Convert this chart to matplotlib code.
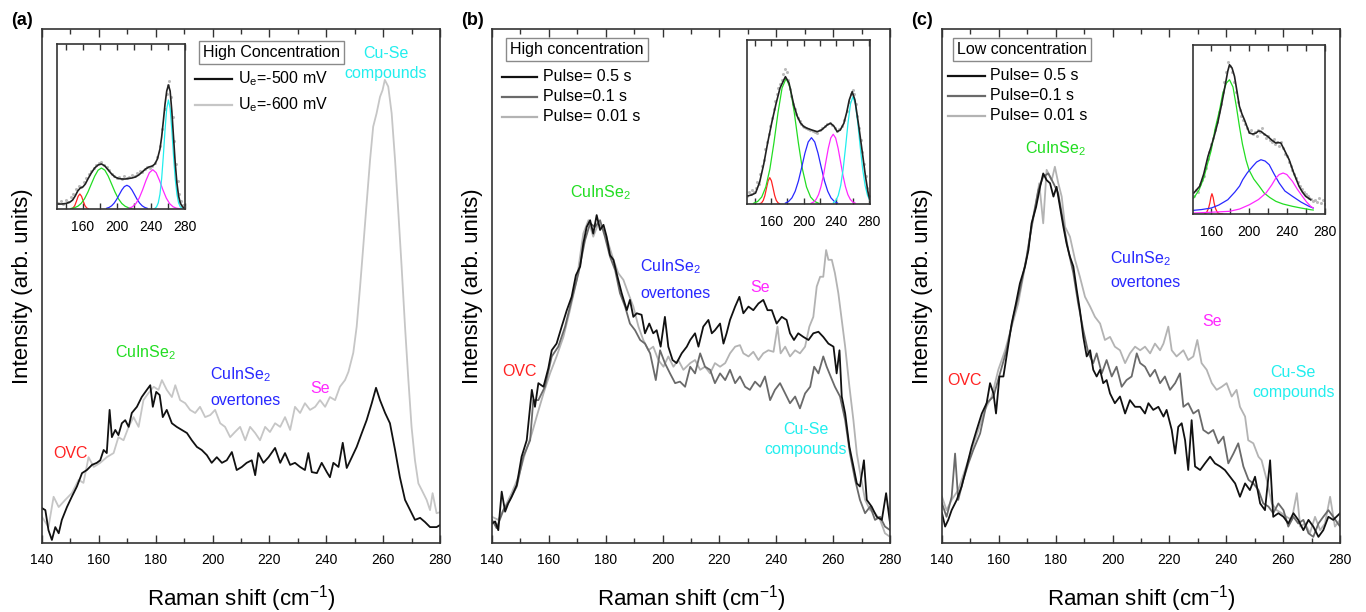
import matplotlib
matplotlib.use("Agg")  # headless
import matplotlib.pyplot as plt
from matplotlib.ticker import MultipleLocator, FixedLocator

plt.rcParams['font.family'] = ['Liberation Sans', 'DejaVu Sans']
plt.rcParams['mathtext.fontset'] = 'custom'
plt.rcParams['mathtext.rm'] = 'Liberation Sans'
plt.rcParams['mathtext.it'] = 'Liberation Sans:italic'
plt.rcParams['mathtext.default'] = 'regular'

# ---- main spectra, (Raman shift cm-1, intensity arb. 0..100) ----
A_500 = [(140, 6.8), (141.2, 6.4), (142.3, 2.5), (143.5, 0.6), (144.7, 3.1), (145.9, 1.9), (147.0, 4.5),
         (148.8, 7), (150.5, 9), (152.3, 11), (154.1, 13.6), (155.8, 14.2), (157.6, 15.2), (159.3, 15.6),
         (160.5, 16.1), (161.7, 18.1), (162.8, 17.5), (163.8, 25.9), (164.6, 20.6), (165.8, 22), (166.9, 21),
         (168.1, 23.3), (169.3, 23.9), (170.5, 22.6), (171.6, 25.3), (173.4, 26.5), (175.1, 28.4), (176.9, 29.8),
         (178.1, 30.7), (179.0, 26.5), (180.2, 29.4), (181.4, 28.8), (182.5, 24.5), (183.9, 25.9), (185.7, 23.3),
         (187.4, 22.6), (189.2, 22), (191.0, 21.4), (192.7, 20), (194.5, 18.7), (196.2, 18.1), (198.0, 17.1),
         (199.7, 15.6), (201.5, 16.7), (203.3, 15.6), (205.0, 16.1), (206.8, 17.7), (208.5, 14.2), (210.3, 14.8),
         (212.0, 15.6), (213.8, 16.1), (215.0, 13.2), (216.1, 17.5), (217.9, 15.6), (219.7, 16.7), (222.0, 18.5),
         (223.8, 15.6), (225.5, 17.5), (227.3, 15.2), (229.0, 15.6), (230.8, 14.8), (232.5, 14.2), (233.7, 17.5),
         (234.9, 13.8), (236.7, 13.6), (238.4, 15.6), (240.2, 13.8), (241.3, 12.8), (242.5, 15.6), (244.3, 14.8),
         (245.8, 19.5), (247.2, 14.6), (249.0, 16.7), (250.7, 18.7), (252.5, 21.4), (254.2, 23.9), (256.0, 27.2),
         (257.5, 30.2), (258.9, 27.8), (260.7, 25.3), (262.4, 23.3), (264.2, 18.1), (265.9, 12.8), (267.7, 8.4),
         (269.5, 6.4), (271.2, 4.5), (273.0, 4.9), (274.7, 4.1), (276.5, 3.1), (278.8, 3.1), (280, 3.5)]

A_600 = [(140, 5.1), (142.3, 3.1), (144.1, 9.0), (145.9, 7), (148.2, 8.4), (150.5, 9.7), (152.9, 12.3),
         (154.6, 11.7), (156.4, 16.7), (158.2, 14.8), (160.5, 15.6), (162.8, 16.7), (165.2, 17.5), (166.9, 20.6),
         (168.7, 20.0), (170.5, 22.6), (172.2, 24.5), (174.0, 22.6), (175.7, 27.8), (177.5, 29.2), (179.3, 30.4),
         (181.0, 29.8), (182.2, 31.7), (183.9, 29.8), (185.7, 28.4), (186.9, 30.7), (188.6, 27.8), (190.4, 27.2),
         (192.1, 25.9), (193.9, 25.3), (195.6, 26.5), (197.4, 24.5), (199.2, 24.9), (200.9, 25.9), (202.7, 23.3),
         (204.4, 22.6), (206.2, 20.6), (207.9, 21.6), (209.7, 22.6), (211.5, 20.0), (213.2, 22.6), (215.0, 21.4),
         (216.7, 20.0), (218.5, 22.6), (220.2, 21.6), (222.0, 23.3), (223.8, 22.6), (225.5, 24.5), (227.3, 22.0),
         (229.0, 26.5), (230.8, 25.3), (232.5, 27.2), (234.3, 25.9), (236.1, 26.5), (237.8, 27.8), (239.6, 26.5),
         (241.3, 28.4), (243.1, 27.8), (244.8, 30.4), (246.6, 31.7), (247.8, 33.3), (249.5, 37.0), (250.7, 42.1),
         (251.9, 49.9), (253.0, 57.6), (254.2, 66.1), (255.4, 74.5), (256.5, 81.0), (257.7, 83.6), (258.9, 86.8),
         (259.8, 88.1), (260.6, 90.1), (261.8, 88.8), (263.0, 83.6), (264.2, 74.5), (265.3, 64.8), (266.5, 53.8),
         (267.7, 42.1), (268.8, 32.4), (270.0, 22.6), (271.2, 16.1), (272.4, 11.6), (273.6, 10.3), (275.3, 8.4),
         (276.5, 6.4), (277.4, 9.7), (278.8, 5.8), (280, 6.0)]

B_05 = [(140, 3.8), (141.1, 4.2), (142.2, 2.5), (143.4, 10), (144.6, 6.1), (145.7, 7.7), (146.9, 9.0), (148.7, 11.3),
        (150.4, 16.8), (152.2, 20), (154, 29.8), (155.1, 26.5), (156.3, 31.1), (158.1, 30.4), (159.8, 34),
        (161, 37.5), (162.7, 38.8), (164.5, 42.1), (166.3, 45.3), (168, 47.9), (169.5, 52.1), (171, 53.8),
        (172.1, 58.3), (173.3, 61.5), (174.5, 62.8), (175.6, 60.2), (176.8, 63.8), (178, 60.9), (179.2, 61.9),
        (180.3, 59.6), (181.5, 56), (182.7, 55.1), (183.8, 52.5), (185.6, 48.6), (187.4, 45.3), (188.5, 47.3),
        (189.7, 44), (190.9, 44.7), (192.6, 44.4), (193.8, 40.8), (195.3, 42.7), (196.7, 40.8), (197.9, 41.4),
        (199.3, 38.2), (200.8, 44), (202, 38.2), (203.5, 35.6), (204.9, 35), (206.7, 36.9), (208.5, 38.2),
        (209.7, 39.5), (211.4, 40.8), (212.6, 38.2), (214.3, 42.1), (216.1, 43.4), (217.3, 40.8), (218.4, 41.4),
        (220.2, 42.7), (221.4, 38.8), (222.5, 40.8), (223.7, 43.4), (225.5, 46), (227, 47.9), (228.4, 44.7),
        (230.2, 46), (231.9, 45.3), (233.7, 46.6), (235.4, 47.3), (236.9, 45.3), (238.4, 45.3), (240.1, 42.7),
        (241.9, 44), (243.6, 43.4), (244.8, 40.8), (246.2, 39.5), (247.7, 40.8), (249.5, 40.1), (251.3, 39.5),
        (253, 40.8), (254.8, 41.1), (256.5, 40.1), (258.3, 38.8), (260.1, 38.2), (261.2, 33), (262.2, 37.5),
        (263, 28.5), (264.2, 25.2), (265.7, 18.7), (267.1, 14.9), (268.3, 11.6), (269.4, 11), (270.8, 16.1),
        (271.8, 8.4), (273.5, 7.1), (275.3, 5.1), (277.1, 4.5), (278.6, 9.7), (280, 3.8)]

B_01 = [(140, 4.5), (141.6, 2.9), (144, 6.4), (146.3, 8.4), (148.7, 11), (151, 16.8), (153.4, 20), (154.5, 27.8),
        (156.3, 27.8), (158.6, 30.4), (161, 36.3), (163.3, 38.2), (165.7, 42.1), (168, 47.3), (170.4, 52.5),
        (172.7, 58.9), (174.5, 62.2), (176.2, 61.5), (178, 62.8), (179.7, 59.6), (181.5, 55.7), (183.3, 53.1),
        (185, 48.6), (186.8, 46), (188.5, 42.7), (190.3, 41.4), (192.1, 39.5), (193.8, 38.8), (195.6, 36.9),
        (197.6, 31.7), (199.1, 37.5), (200.8, 35), (202.6, 33), (204.4, 31.1), (206.1, 31.4), (207.9, 30.4),
        (209.7, 34.3), (211.4, 33), (213.2, 36.9), (214.9, 34.3), (216.7, 33.7), (218.4, 31.1), (220.2, 33),
        (222, 31.7), (223.7, 33.7), (225.5, 31.1), (227.2, 32.4), (229, 30.4), (230.7, 29.8), (232.5, 31.4),
        (234.3, 30.4), (236, 32.4), (237.8, 27.8), (239.5, 29.8), (241.3, 31.1), (243.1, 29.1), (244.8, 27.2),
        (246.6, 28.5), (248.3, 26.2), (250.1, 29.1), (251.9, 30.4), (253.3, 34.3), (254.8, 33), (256.5, 36.3),
        (257.7, 34.3), (259.1, 32.4), (260.6, 30.4), (262.4, 28.5), (264.2, 23.9), (265.9, 17.4), (267.7, 12.3),
        (269.4, 8.4), (271.2, 5.8), (273, 7.1), (274.7, 4.5), (276.5, 5.1), (278.2, 3.2), (280, 2.5)]

B_001 = [(140, 5.1), (142.2, 4.5), (144.6, 7.1), (146.9, 9.7), (149.3, 12.9), (151.6, 17.4), (154, 21.3),
         (155.7, 24.6), (158.1, 29.1), (160.4, 33), (162.7, 36.3), (165.1, 40.1), (167.4, 45.3), (169.8, 51.2),
         (172.1, 60.2), (173.9, 62.8), (175.6, 59.6), (177.4, 62.2), (179.2, 60.9), (180.9, 58.3), (182.7, 55.1),
         (184.4, 52.5), (186.2, 51.2), (187.9, 48.6), (189.7, 46), (191.5, 42.1), (193.2, 39.5), (195, 37.5),
         (196.7, 38.2), (198.5, 35.6), (200.3, 34.3), (202, 36.3), (203.8, 34.3), (205.5, 35.6), (207.3, 33.7),
         (209.7, 35), (211.4, 35.6), (213.2, 33.7), (214.9, 34.3), (216.7, 33), (218.4, 35), (220.2, 34.3),
         (222, 35), (223.7, 36.9), (225.5, 38.2), (227.2, 38.5), (228.4, 36.9), (230.2, 36.3), (231.9, 37.2),
         (233.7, 35.6), (235.4, 36.9), (237.2, 37.5), (239, 37.2), (240.4, 42.1), (241.5, 36.9), (243.1, 38.2),
         (244.8, 36.3), (246.6, 37.5), (248.3, 36.9), (250.1, 38.2), (251.6, 42.1), (253, 44), (254.2, 49.9),
         (255.4, 51.8), (256.5, 51.8), (257.5, 57), (258.3, 55.1), (259.5, 55.1), (260.6, 52.5), (261.8, 48.6),
         (263, 43.4), (264.2, 38.2), (265.7, 30.4), (267.1, 23.9), (268.3, 17.4), (269.7, 12.9), (271.2, 8.4),
         (273, 6.4), (274.7, 5.8), (276.5, 4.5), (278.2, 1.9), (280, 1.2)]

C_05 = [(140, 5.8), (141.1, 3.2), (142.2, 4.5), (143.4, 6.4), (145.2, 8.4), (146.9, 11), (148.7, 14.9),
        (150.4, 18.7), (152.2, 22), (154, 25.2), (155.7, 27.2), (156.9, 31.1), (158.1, 29.1), (159, 25.2),
        (160.2, 32.4), (161.6, 32.4), (162.7, 36.3), (164.5, 42.7), (166, 46.6), (167.4, 50.5), (169.2, 53.8),
        (170.4, 57), (171.5, 62.2), (173.1, 65.4), (174.5, 69.3), (175.6, 71.9), (176.8, 70.6), (178, 70),
        (179.2, 67.4), (180.3, 69.3), (181.5, 65.4), (182.7, 61.5), (183.8, 58.3), (185, 55.7), (186.2, 53.8),
        (187.4, 49.2), (188.5, 45.3), (189.7, 40.1), (190.9, 36.3), (192.1, 37.5), (193.2, 33.7), (194.4, 32.4),
        (195.6, 33.7), (196.7, 31.1), (197.9, 31.7), (199.1, 29.1), (200.8, 27.2), (202.6, 28.5), (204.4, 25.2),
        (206.1, 27.8), (207.9, 26.5), (209.7, 26.5), (211.4, 25.2), (212.6, 27.2), (214.3, 25.9), (216.1, 26.5),
        (217.9, 24.6), (219, 25.9), (220.8, 22), (222, 17.4), (223.1, 22.6), (224.3, 23.3), (225.5, 20),
        (226.6, 14.2), (227.8, 23.9), (229, 14.9), (230.8, 14.2), (232.5, 15.5), (234.3, 16.8), (236, 15.5),
        (237.8, 14.9), (239.5, 14.2), (241.3, 12.9), (243.1, 11.6), (244.8, 9), (246.6, 11.6), (248.3, 10.3),
        (250.1, 12.9), (251.9, 7.7), (253.6, 6.4), (255.4, 16.1), (256.5, 5.1), (258.3, 5.8), (260.1, 5.1),
        (261.8, 3.8), (263.6, 5.8), (265.3, 4.5), (267.1, 2.5), (268.9, 4.5), (270.6, 3.2), (272.4, 1.2),
        (274.1, 2.5), (275.9, 5.1), (277.6, 4.5), (280, 5.8)]

C_01 = [(140, 7.7), (141.6, 5.1), (143.4, 9), (144.6, 17.4), (145.7, 8.4), (147.5, 12.3), (149.3, 15.5),
        (151, 18.1), (153.4, 21.3), (155.7, 27.2), (158.1, 28.5), (160.4, 33), (162.7, 37.5), (165.1, 44),
        (167.4, 49.2), (169.8, 55.7), (172.1, 63.5), (173.9, 68.7), (175.6, 71.3), (177.4, 71.9), (179.2, 70),
        (180.9, 68), (182.7, 62.2), (184.4, 57), (186.2, 52.5), (187.9, 46.6), (189.7, 41.4), (191.5, 36.9),
        (193.2, 35), (194.4, 36.9), (196.2, 33), (197.9, 35.6), (199.7, 32.4), (201.4, 34.3), (203.2, 30.4),
        (204.9, 31.7), (206.7, 32.4), (208.5, 36.9), (209.7, 35), (211.4, 34.3), (213.2, 32.4), (214.9, 33.7),
        (216.7, 31.1), (218.4, 32.4), (220.2, 29.8), (222, 31.1), (223.7, 33), (224.9, 26.5), (226.6, 27.2),
        (228.4, 25.2), (230.2, 25.9), (231.9, 22), (233.7, 21.3), (235.4, 22), (237.2, 19.4), (239, 20.7),
        (240.7, 15.5), (242.5, 17.4), (244.2, 19.4), (246, 14.9), (247.8, 12.3), (249.5, 11.6), (251.3, 10.3),
        (253, 7.7), (254.8, 7.1), (256.5, 5.8), (258.3, 7.7), (260.1, 6.4), (261.8, 3.2), (263.6, 5.1),
        (265.3, 3.8), (267.1, 4.5), (268.9, 1.9), (270.6, 1.2), (272.4, 3.8), (274.1, 5.1), (275.9, 6.4),
        (277.6, 5.1), (280, 3.2)]

C_001 = [(140, 9), (141.6, 6.4), (143.4, 8.4), (145.7, 10.3), (148.1, 14.2), (150.4, 18.1), (152.8, 22),
         (155.1, 25.9), (157.5, 28.5), (159.8, 33.7), (162.2, 37.5), (164.5, 42.1), (166.8, 46.6), (169.2, 53.8),
         (170.9, 59.6), (172.7, 64.8), (174.2, 70), (175.6, 62.2), (176.8, 72.6), (178.6, 70.6), (179.7, 73.2),
         (180.9, 70), (182.1, 67.4), (183.3, 61.5), (185, 59.6), (186.8, 55.1), (188.5, 51.8), (190.3, 47.9),
         (192.1, 46), (193.8, 44), (195.6, 42.7), (197.3, 39.5), (199.1, 40.1), (200.8, 38.2), (202.6, 37.5),
         (204.4, 35), (206.1, 36.9), (207.9, 38.2), (209.7, 37.5), (211.4, 38.2), (213.2, 36.9), (214.9, 38.8),
         (216.7, 37.5), (217.9, 38.8), (219.6, 42.1), (220.8, 37.5), (222.5, 36.3), (224.9, 37.5), (226.6, 35.6),
         (228.4, 36.3), (229.8, 39.5), (231.3, 35), (233.1, 33.7), (234.9, 31.1), (236.6, 29.8), (238.4, 30.4),
         (240.1, 31.1), (241.9, 28.5), (243.6, 29.8), (244.8, 26.5), (246.6, 24.6), (247.7, 20), (249.5, 19.4),
         (251.3, 16.8), (252.4, 16.1), (254.2, 12.3), (256, 7.7), (257.7, 6.4), (259.5, 5.8), (261.2, 5.1),
         (263, 4.5), (264.8, 9.7), (266, 3.2), (267.7, 3.8), (269.4, 1.9), (271.2, 5.1), (273, 2.5), (274.7, 3.8),
         (276.5, 9), (278.2, 3.2), (280, 4.5)]

# ---- inset fits (Raman shift, height) ----
IA_RED = [(146.5, 0.2), (148.5, 1.1), (150.5, 3.4), (152.5, 7.8), (154.5, 12.7), (156.5, 15), (158.5, 12.7),
          (160.5, 7.8), (162.5, 3.4), (164.5, 1.1), (166.5, 0.2)]
IA_GREEN = [(146, 0.5), (150, 1.2), (154, 2.7), (158, 5.5), (162, 10.2), (166, 16.9), (170, 24.9), (174, 32.8),
            (178, 38.8), (182, 41), (186, 38.8), (190, 32.8), (194, 24.9), (198, 16.9), (202, 10.2), (206, 5.5),
            (210, 2.7), (214, 1.2), (218, 0.5)]
IA_BLUE = [(188, 0.7), (191, 1.6), (194, 3.2), (197, 5.9), (200, 9.7), (203, 14.4), (206, 19), (209, 22.4),
           (212, 23.7), (215, 22.4), (218, 19), (221, 14.4), (224, 9.7), (227, 5.9), (230, 3.2), (233, 1.6), (236, 0.7)]
IA_MAGENTA = [(214.5, 0.8), (218.5, 2.2), (222.5, 5.3), (226.5, 10.9), (230.5, 19.1), (234.5, 28.5), (238.5, 36.3),
              (242.5, 39.3), (246.5, 36.3), (250.5, 28.5), (254.5, 19.1), (258.5, 10.9), (262.5, 5.3), (266.5, 2.2),
              (270.5, 0.8), (274.5, 0.2)]
IA_CYAN = [(245, 0.6), (247, 2.2), (249, 6.1), (251, 14.8), (253, 30.3), (255, 53.1), (257, 79.1), (259, 100.6),
           (261, 109), (263, 100.6), (265, 79.1), (267, 53.1), (269, 30.3), (271, 14.8), (273, 6.1), (275, 2.2), (277, 0.6)]
IA_FIT = [(131, 5), (135, 5), (140, 5.5), (145, 7), (148, 9), (151, 13), (154, 18), (157, 21), (160, 22), (163, 25),
          (166, 30), (170, 36), (174, 41), (178, 44), (182, 45), (186, 43), (190, 39), (194, 35), (198, 32),
          (202, 30.5), (206, 30), (210, 30), (214, 30.5), (218, 31), (222, 32), (226, 34), (230, 37), (234, 40),
          (238, 42), (242, 43), (245, 45), (248, 50), (251, 60), (253, 72), (255, 88), (257, 105), (259, 118),
          (261, 124), (263, 118), (265, 98), (267, 72), (269, 46), (271, 26), (273, 13), (275, 6), (277, 3), (279, 1)]
IA_DATA = [(131, 6), (134, 8), (137, 5), (140, 9), (143, 7), (146, 12), (149, 15), (152, 20), (155, 23), (158, 22),
           (161, 27), (164, 31), (167, 35), (170, 38), (173, 41), (176, 44), (179, 46), (182, 47), (185, 44),
           (188, 42), (191, 39), (194, 35), (197, 33), (200, 31), (203, 32), (206, 30), (209, 33), (212, 31),
           (215, 32), (218, 34), (221, 33), (224, 36), (227, 38), (230, 37), (233, 40), (236, 42), (239, 41),
           (242, 43), (245, 46), (248, 52), (251, 63), (254, 80), (257, 100), (259, 115), (261, 124), (262, 128),
           (264, 112), (266, 92), (268, 68), (270, 45), (272, 28), (274, 15), (276, 8), (278, 4), (280, 2)]

IB_RED = [(146.4, 0.3), (148.4, 1.2), (150.4, 3.6), (152.4, 8.5), (154.4, 16), (156.4, 23.2), (158.4, 26.3),
          (160.4, 23.2), (162.4, 16), (164.4, 8.5), (166.4, 3.6), (168.4, 1.2), (170.4, 0.3)]
IB_GREEN = [(138.5, 0.7), (143.5, 2.5), (148.5, 7), (153.5, 17), (158.5, 34.9), (163.5, 61.2), (168.5, 91.3),
            (173.5, 116), (178.5, 125.7), (183.5, 116), (188.5, 91.3), (193.5, 61.2), (198.5, 34.9), (203.5, 17),
            (208.5, 7), (213.5, 2.5), (218.5, 0.7)]
IB_BLUE = [(177.6, 0.9), (181.6, 2.6), (185.6, 6.1), (189.6, 12.7), (193.6, 23), (197.6, 36.6), (201.6, 50.9),
           (205.6, 62), (209.6, 66.3), (213.6, 62), (217.6, 50.9), (221.6, 36.6), (225.6, 23), (229.6, 12.7),
           (233.6, 6.1), (237.6, 2.6), (241.6, 0.9)]
IB_MAGENTA = [(209.3, 0.8), (212.3, 2), (215.3, 4.6), (218.3, 9.4), (221.3, 17.4), (224.3, 28.6), (227.3, 42.3),
              (230.3, 55.8), (233.3, 66), (236.3, 69.7), (239.3, 66), (242.3, 55.8), (245.3, 42.3), (248.3, 28.6),
              (251.3, 17.4), (254.3, 9.4), (257.3, 4.6), (260.3, 2), (263.3, 0.8)]
IB_CYAN = [(236.5, 1.2), (239.5, 3.4), (242.5, 8.5), (245.5, 18.5), (248.5, 34.8), (251.5, 57), (254.5, 81),
           (257.5, 100), (260.5, 107.3), (263.5, 100), (266.5, 81), (269.5, 57), (272.5, 34.8), (275.5, 18.5),
           (278.5, 8.5), (281.5, 3.4)]
IB_FIT = [(131, 8), (136, 9), (141, 11), (146, 22), (151, 40), (156, 62), (161, 82), (166, 100), (171, 116),
          (177.6, 127.3), (182, 121), (187.9, 99), (192, 88), (196.1, 81), (200, 77.5), (204.3, 75.7), (210, 74),
          (216.6, 72.3), (222, 74), (228.9, 79), (233, 80.7), (237, 78), (241.2, 72.3), (245, 74), (249.4, 80.7),
          (253, 92), (256, 104), (259.6, 112.3), (263, 104), (267.8, 77.3), (272, 52), (276, 27.3), (279, 12), (281, 5)]
IB_DATA = [(131, 8), (133, 12), (135, 10), (137, 14), (139, 12), (141, 16), (143, 22), (145, 20), (147, 30), (149, 38),
           (151, 44), (153, 55), (155, 62), (157, 70), (159, 78), (161, 86), (163, 95), (165, 103), (167, 110),
           (169, 116), (171, 120), (173, 124), (175, 130), (177, 135), (179, 132), (181, 124), (183, 115), (185, 108),
           (187, 100), (189, 95), (191, 90), (193, 86), (195, 83), (197, 80), (199, 78), (201, 77), (203, 76),
           (205, 75), (208, 74), (211, 73), (214, 72), (217, 71), (220, 74), (223, 76), (226, 78), (229, 80),
           (232, 81), (235, 79), (238, 76), (241, 73), (244, 75), (247, 78), (250, 84), (253, 93), (256, 102),
           (258, 110), (260, 114), (262, 110), (264, 100), (266, 88), (268, 76), (270, 64), (272, 52), (274, 40),
           (276, 28), (278, 16), (280, 8)]

IC_RED = [(153, 0.2), (155, 1.5), (157, 5.5), (158.5, 11), (159.5, 16.5), (160.7, 20.3), (162, 16.5), (163, 11),
          (164.5, 5.5), (166.5, 1.5), (169, 0.3), (172, 0)]
IC_GREEN = [(141.4, 16), (147, 24), (152, 36), (156, 50), (160, 64), (164, 85), (168.8, 104), (172, 120), (176, 131),
            (179.3, 134.3), (183, 127), (186.5, 108), (189.8, 87.7), (193, 70), (196.8, 54), (200, 44), (205, 35),
            (210.9, 27.7), (216, 21), (222, 16.5), (228.4, 12.7), (236, 10), (246, 7.7), (255, 6), (265.3, 4.3), (268, 4)]
IC_BLUE = [(141.4, 3.7), (150, 4.5), (160, 6), (168, 9), (177.5, 14.3), (185, 22), (190, 28), (193.3, 34.3), (198, 41),
           (203.9, 47.7), (208, 52), (212.6, 54.3), (217, 53), (221.4, 49.3), (226, 41), (231.9, 31), (238, 23),
           (246, 17.7), (255, 12), (263.5, 7.7), (268, 6)]
IC_MAGENTA = [(141.4, 1), (160, 1.8), (179.3, 2.7), (190, 5), (200.4, 9.3), (210, 14.5), (218, 21), (224, 29),
              (228.4, 36), (232, 39.5), (236.1, 41), (240, 39.5), (246, 32.7), (251, 25), (256.5, 17.7), (261, 12),
              (265.3, 7.7), (268, 6)]
IC_FIT = [(141.4, 21), (147.7, 27.7), (152, 40), (156.5, 57.7), (160, 68), (163.5, 79.3), (167, 92), (170.5, 107.7),
          (173, 120), (175.8, 134.3), (177.5, 143), (179.3, 149.3), (182, 146), (184.6, 137.7), (187, 124),
          (189.8, 107.7), (192.5, 100), (195.1, 94.3), (198, 87), (200.4, 81), (204, 80), (207.4, 81), (210, 83),
          (212.6, 82.7), (216, 80), (219.6, 77.7), (224, 74), (228.4, 71), (231, 71.5), (233.7, 71), (238, 63),
          (242.5, 54.3), (247, 42), (253, 27.7), (256.5, 22), (260, 17.7), (265.3, 14.3)]
IC_DATA = [(142, 18), (144, 24), (146, 22), (148, 30), (150, 34), (152, 38), (154, 46), (156, 55), (158, 62), (160, 70),
           (162, 76), (164, 84), (166, 92), (168, 102), (170, 110), (172, 122), (174, 132), (176, 142), (178, 152),
           (180, 148), (182, 142), (184, 132), (186, 122), (188, 112), (190, 104), (192, 98), (194, 94), (196, 90),
           (198, 86), (200, 82), (202, 84), (204, 80), (206, 82), (208, 78), (210, 84), (212, 82), (214, 86),
           (216, 80), (218, 76), (220, 78), (222, 74), (224, 72), (226, 75), (228, 70), (230, 72), (232, 68),
           (234, 72), (236, 66), (238, 60), (240, 58), (242, 52), (244, 48), (246, 44), (248, 40), (250, 36),
           (252, 32), (254, 28), (256, 25), (258, 22), (260, 20), (262, 18), (264, 16), (266, 15), (268, 13),
           (270, 14), (272, 12), (274, 16), (276, 11), (278, 14), (280, 10)]

BLACK = "#111111"
MID = "#6a6a6a"
LIGHT = "#b3b3b3"
LIGHT_A = "#c6c6c6"
RED = "#ff2222"
GREEN = "#22dd22"
BLUE = "#2828ff"
MAGENTA = "#ff28ff"
CYAN = "#22eeee"
SPINE = "#333333"


def xy(pairs):
    return [p[0] for p in pairs], [p[1] for p in pairs]


def style_main(ax):
    ax.set_xlim(140, 280)
    ax.set_ylim(0, 100)
    ax.set_xticks(range(140, 281, 20))
    ax.xaxis.set_minor_locator(MultipleLocator(10))
    ax.tick_params(axis='x', which='both', direction='in', top=True, labelsize=10, pad=7, color=SPINE)
    ax.tick_params(axis='x', which='major', length=6, width=1)
    ax.tick_params(axis='x', which='minor', length=3.5, width=1)
    ax.set_yticks([])
    ax.set_xlabel("Raman shift (cm$^{-1}$)", fontsize=16)
    ax.set_ylabel("Intensity (arb. units)", fontsize=16)
    ax.xaxis.set_label_coords(0.5, -0.078)
    ax.yaxis.set_label_coords(-0.022, 0.5)
    for s in ax.spines.values():
        s.set_linewidth(1.2)
        s.set_color(SPINE)


def style_inset(ax, xlim, ylim):
    ax.set_xlim(*xlim)
    ax.set_ylim(*ylim)
    ax.xaxis.set_major_locator(FixedLocator([160, 200, 240, 280]))
    ax.xaxis.set_minor_locator(FixedLocator([140, 180, 220, 260]))
    ax.tick_params(axis='x', which='both', direction='in', top=True, length=4, width=1,
                   labelsize=10, pad=8, color=SPINE)
    ax.set_yticks([])
    for s in ax.spines.values():
        s.set_linewidth(1.2)
        s.set_color(SPINE)


def draw_inset(ax, comps, fit, data):
    x, y = xy(data)
    ax.plot(x, y, 'o', ms=2.2, color='#aaaaaa', mec='none', alpha=0.8)
    for pairs, col in comps:
        x, y = xy(pairs)
        ax.plot(x, y, color=col, lw=0.9)
    x, y = xy(fit)
    ax.plot(x, y, color='#222222', lw=1.2)


def draw_legend(ax, title, tx, ty, entries, x0, x1, xt, ys):
    ax.text(tx, ty, title, transform=ax.transAxes, ha='center', va='center', fontsize=11.5,
            bbox=dict(boxstyle='square,pad=0.25', fc='white', ec='#8a8a8a', lw=1))
    for (label, col), yy in zip(entries, ys):
        ax.plot([x0, x1], [yy, yy], transform=ax.transAxes, color=col, lw=1.6, clip_on=False)
        ax.text(xt, yy, label, transform=ax.transAxes, ha='left', va='center', fontsize=11.5)


def annotate(ax, ovc, cis, ovt, se, cuse):
    ax.text(ovc[0], ovc[1], "OVC", color=RED, fontsize=11.5, va='center')
    ax.text(cis[0], cis[1], "CuInSe$_2$", color=GREEN, fontsize=11.5, va='center')
    ax.text(ovt[0], ovt[1], "CuInSe$_2$", color=BLUE, fontsize=11.5, va='center')
    ax.text(ovt[0], ovt[2], "overtones", color=BLUE, fontsize=11.5, va='center')
    ax.text(se[0], se[1], "Se", color=MAGENTA, fontsize=11.5, va='center')
    ax.text(cuse[0], cuse[1], "Cu-Se", color=CYAN, fontsize=11.5, va='center', ha='center')
    ax.text(cuse[0], cuse[2], "compounds", color=CYAN, fontsize=11.5, va='center', ha='center')


fig = plt.figure(figsize=(13.66, 6.12), dpi=100)
ax_a = fig.add_axes([0.0307, 0.1127, 0.2914, 0.8399])
ax_b = fig.add_axes([0.3602, 0.1127, 0.2914, 0.8399])
ax_c = fig.add_axes([0.6896, 0.1127, 0.2914, 0.8399])

# (a)
for pairs, col in [(A_600, LIGHT_A), (A_500, BLACK)]:
    x, y = xy(pairs)
    ax_a.plot(x, y, color=col, lw=1.3)
style_main(ax_a)
annotate(ax_a, (143.9, 17.5), (165.7, 37), (199.1, 32.7, 27.8), (234.3, 30), (261, 95.3, 91.4))
draw_legend(ax_a, "High Concentration", 0.577, 0.954,
            [("U$_e$=-500 mV", BLACK), ("U$_e$=-600 mV", LIGHT_A)], 0.384, 0.477, 0.492, [0.903, 0.852])

# (b)
for pairs, col in [(B_001, LIGHT), (B_01, MID), (B_05, BLACK)]:
    x, y = xy(pairs)
    ax_b.plot(x, y, color=col, lw=1.3)
style_main(ax_b)
annotate(ax_b, (143.5, 33.3), (167.4, 68.1), (192, 53.7, 48.6), (230.7, 49.8), (250.4, 22, 18.2))
draw_legend(ax_b, "High concentration", 0.2136, 0.960,
            [("Pulse= 0.5 s", BLACK), ("Pulse=0.1 s", MID), ("Pulse= 0.01 s", LIGHT)],
            0.025, 0.113, 0.128, [0.907, 0.868, 0.829])

# (c)
for pairs, col in [(C_001, LIGHT), (C_01, MID), (C_05, BLACK)]:
    x, y = xy(pairs)
    ax_c.plot(x, y, color=col, lw=1.3)
style_main(ax_c)
annotate(ax_c, (141.8, 31.7), (169.2, 76.8), (199.1, 55.4, 50.6), (231.4, 43), (263.6, 33.1, 29.2))
draw_legend(ax_c, "Low concentration", 0.201, 0.961,
            [("Pulse= 0.5 s", BLACK), ("Pulse=0.1 s", MID), ("Pulse= 0.01 s", LIGHT)],
            0.015, 0.108, 0.12, [0.909, 0.870, 0.831])

# insets
in_a = fig.add_axes([0.0417, 0.6585, 0.0937, 0.2696])
draw_inset(in_a, [(IA_RED, RED), (IA_GREEN, GREEN), (IA_BLUE, BLUE), (IA_MAGENTA, MAGENTA), (IA_CYAN, CYAN)],
           IA_FIT, IA_DATA)
style_inset(in_a, (129.5, 280.5), (0, 165))

in_b = fig.add_axes([0.5469, 0.6667, 0.0900, 0.2680])
draw_inset(in_b, [(IB_RED, RED), (IB_GREEN, GREEN), (IB_BLUE, BLUE), (IB_MAGENTA, MAGENTA), (IB_CYAN, CYAN)],
           IB_FIT, IB_DATA)
style_inset(in_b, (130.5, 281.5), (0, 164))

in_c = fig.add_axes([0.8734, 0.6503, 0.0966, 0.2761])
draw_inset(in_c, [(IC_RED, RED), (IC_GREEN, GREEN), (IC_BLUE, BLUE), (IC_MAGENTA, MAGENTA)],
           IC_FIT, IC_DATA)
style_inset(in_c, (140.7, 280.5), (0, 169))

for lab, fx in [("(a)", 0.016), ("(b)", 0.346), ("(c)", 0.675)]:
    fig.text(fx, 0.967, lab, fontsize=13, fontweight='bold', ha='center', va='center')

fig.savefig("out.png", dpi=100)
